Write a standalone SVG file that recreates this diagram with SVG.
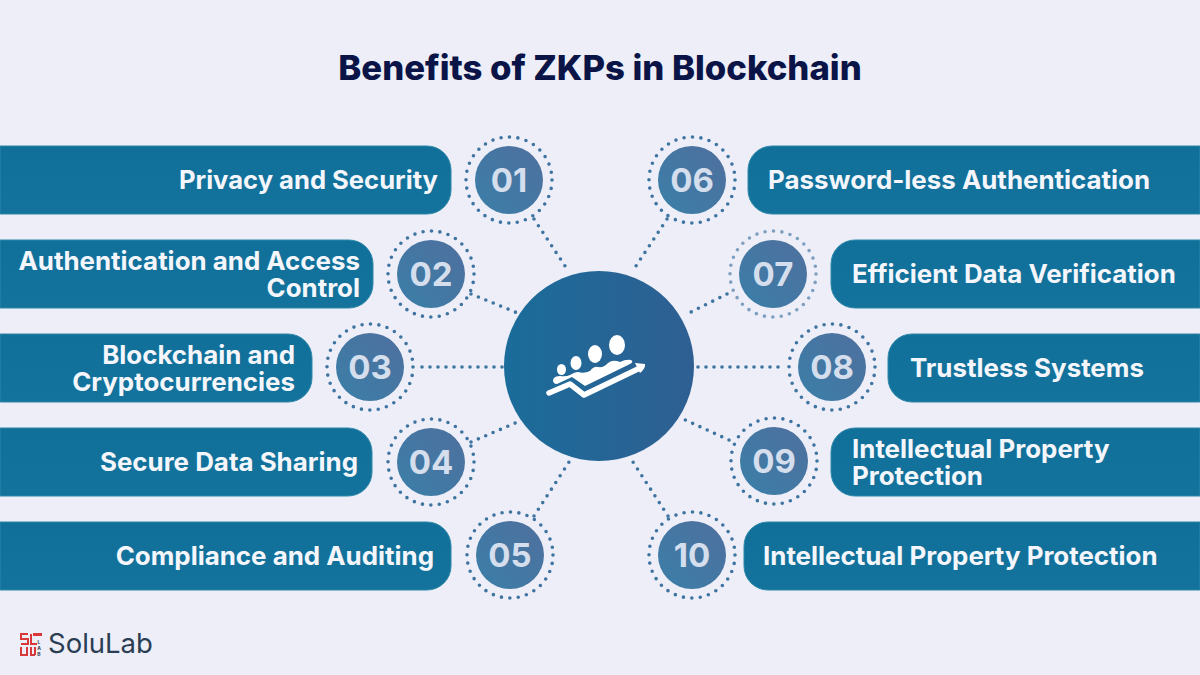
<svg xmlns="http://www.w3.org/2000/svg" width="1200" height="675" viewBox="0 0 1200 675">
<style>
text{font-family:Inter,"Noto Sans","Liberation Sans",sans-serif}
.t{font-size:25.9px;font-weight:700;fill:#f4f6fb}
.e{text-anchor:end}
.p{fill:url(#pg);stroke:#2f88a8;stroke-width:1}
.n{fill:url(#ng)}
.d{fill:none;stroke:#3f74a0;stroke-width:3.6;stroke-linecap:round;stroke-dasharray:0 8.45}
.c{fill:none;stroke:#3f74a0;stroke-width:3.6;stroke-linecap:round;stroke-dasharray:0 8}
.num{font-size:33px;font-weight:700;fill:#d5deec;text-anchor:middle}
</style>
<defs>
<linearGradient id="pg" x1="0" y1="0" x2="0" y2="1"><stop offset="0" stop-color="#10709a"/><stop offset="1" stop-color="#13739c"/></linearGradient>
<linearGradient id="ng" x1="0" y1="1" x2="1" y2="0"><stop offset="0" stop-color="#3a7fa8"/><stop offset="1" stop-color="#4f6f9e"/></linearGradient>
<linearGradient id="cg" x1="0" y1="0" x2="1" y2="0"><stop offset="0" stop-color="#1a6c9a"/><stop offset="1" stop-color="#2f5f92"/></linearGradient>
</defs>
<rect width="1200" height="675" fill="#edeef8"/>
<text x="600" y="80" font-size="34.700" font-weight="800" fill="#0b1447" text-anchor="middle">Benefits of ZKPs in Blockchain</text>
<g id="connectors">
<path class="c" d="M534 219L569 272"/>
<path class="c" d="M471 294L520 314"/>
<path class="c" d="M422 367H504"/>
<path class="c" d="M471 442L520 421"/>
<path class="c" d="M534 516L571 459"/>
<path class="c" d="M667 219L632 272"/>
<path class="c" d="M727 294L685 315"/>
<path class="c" d="M698 367H780"/>
<path class="c" d="M729 440L681 418"/>
<path class="c" d="M668 516L631 459"/>
</g>
<g id="center"><circle cx="599" cy="366" r="95" fill="url(#cg)"/>
<g fill="#fff"><ellipse cx="617" cy="345" rx="8" ry="10"/><ellipse cx="595" cy="354" rx="7" ry="9"/><ellipse cx="576" cy="363" rx="5.500" ry="7"/><ellipse cx="561.500" cy="369.500" rx="4.500" ry="5.500"/>
<path d="M553 380Q554 376 560 376Q566 377 570 375Q575 372 578 372Q584 374 590 371Q594 366 598 367Q604 368 608 363Q613 359 620 362Q626 359 631 360Q634 362 630 364L585 386L572 377L557 384Q553 384 553 380Z"/></g>
<path d="M549 393L570 384L584 395L640 368" fill="none" stroke="#fff" stroke-width="5.500" stroke-linecap="round" stroke-linejoin="round"/><path d="M635 363L645 364Q646 368 640 373Z" fill="#fff"/></g>
<g id="n01"><path class="p" d="M0 146H427a24 24 0 0 1 24 24V190a24 24 0 0 1-24 24H0Z"/><text class="t e" x="438" y="189" style="font-size:25.6px">Privacy and Security</text><circle class="d" cx="509" cy="180" r="43"/><circle class="n" cx="509" cy="180" r="34"/><text class="num" x="509" y="192">01</text></g>
<g id="n02"><path class="p" d="M0 240H349a24 24 0 0 1 24 24V284a24 24 0 0 1-24 24H0Z"/><text class="t e" x="360" y="270">Authentication and Access</text><text class="t e" x="360" y="297">Control</text><circle class="d" cx="431" cy="274" r="43"/><circle class="n" cx="431" cy="274" r="34"/><text class="num" x="431" y="286">02</text></g>
<g id="n03"><path class="p" d="M0 334H288a24 24 0 0 1 24 24V378a24 24 0 0 1-24 24H0Z"/><text class="t e" x="295" y="364">Blockchain and</text><text class="t e" x="295" y="391">Cryptocurrencies</text><circle class="d" cx="370" cy="367" r="43"/><circle class="n" cx="370" cy="367" r="34"/><text class="num" x="370" y="379">03</text></g>
<g id="n04"><path class="p" d="M0 428H348a24 24 0 0 1 24 24V472a24 24 0 0 1-24 24H0Z"/><text class="t e" x="358" y="471">Secure Data Sharing</text><circle class="d" cx="431" cy="462" r="43"/><circle class="n" cx="431" cy="462" r="34"/><text class="num" x="431" y="474">04</text></g>
<g id="n05"><path class="p" d="M0 522H427a24 24 0 0 1 24 24V566a24 24 0 0 1-24 24H0Z"/><text class="t e" x="434" y="565">Compliance and Auditing</text><circle class="d" cx="510" cy="555" r="43"/><circle class="n" cx="510" cy="555" r="34"/><text class="num" x="510" y="567">05</text></g>
<g id="n06"><path class="p" d="M1200 146H772a24 24 0 0 0-24 24V190a24 24 0 0 0 24 24H1200Z"/><text class="t" x="768" y="189">Password-less Authentication</text><circle class="d" cx="692" cy="180" r="43"/><circle class="n" cx="692" cy="180" r="34"/><text class="num" x="692" y="192">06</text></g>
<g id="n07"><path class="p" d="M1200 240H855a24 24 0 0 0-24 24V284a24 24 0 0 0 24 24H1200Z"/><text class="t" x="852" y="283">Efficient Data Verification</text><circle class="d" cx="773" cy="274" r="43" style="stroke:#7f9fc0"/><circle class="n" cx="773" cy="274" r="34"/><text class="num" x="773" y="286">07</text></g>
<g id="n08"><path class="p" d="M1200 334H912a24 24 0 0 0-24 24V378a24 24 0 0 0 24 24H1200Z"/><text class="t" x="910" y="377">Trustless Systems</text><circle class="d" cx="832" cy="367" r="43"/><circle class="n" cx="832" cy="367" r="34"/><text class="num" x="832" y="379">08</text></g>
<g id="n09"><path class="p" d="M1200 428H855a24 24 0 0 0-24 24V472a24 24 0 0 0 24 24H1200Z"/><text class="t" x="852" y="458">Intellectual Property</text><text class="t" x="852" y="485">Protection</text><circle class="d" cx="774" cy="461" r="43"/><circle class="n" cx="774" cy="461" r="34"/><text class="num" x="774" y="473">09</text></g>
<g id="n10"><path class="p" d="M1200 522H768a24 24 0 0 0-24 24V566a24 24 0 0 0 24 24H1200Z"/><text class="t" x="763" y="565">Intellectual Property Protection</text><circle class="d" cx="692" cy="555" r="43"/><circle class="n" cx="692" cy="555" r="34"/><text class="num" x="692" y="567">10</text></g>
<g id="logo">
<g fill="none" stroke="#d9383a" stroke-width="2"><path d="M28 634H21V639H28V644H21M31 634V644H37M21 647V655H27V647M31 647V655H35M35 647V655"/></g>
<rect x="33" y="633" width="9" height="3" fill="#d9383a"/>
<g font-size="5" font-weight="700" fill="#333f55" text-anchor="middle"><text x="39" y="644">L</text><text x="39" y="650">A</text><text x="39" y="656">B</text></g>
<text x="48" y="652.500" font-size="27.500" fill="#2b3d52">SoluLab</text>
</g>
</svg>
